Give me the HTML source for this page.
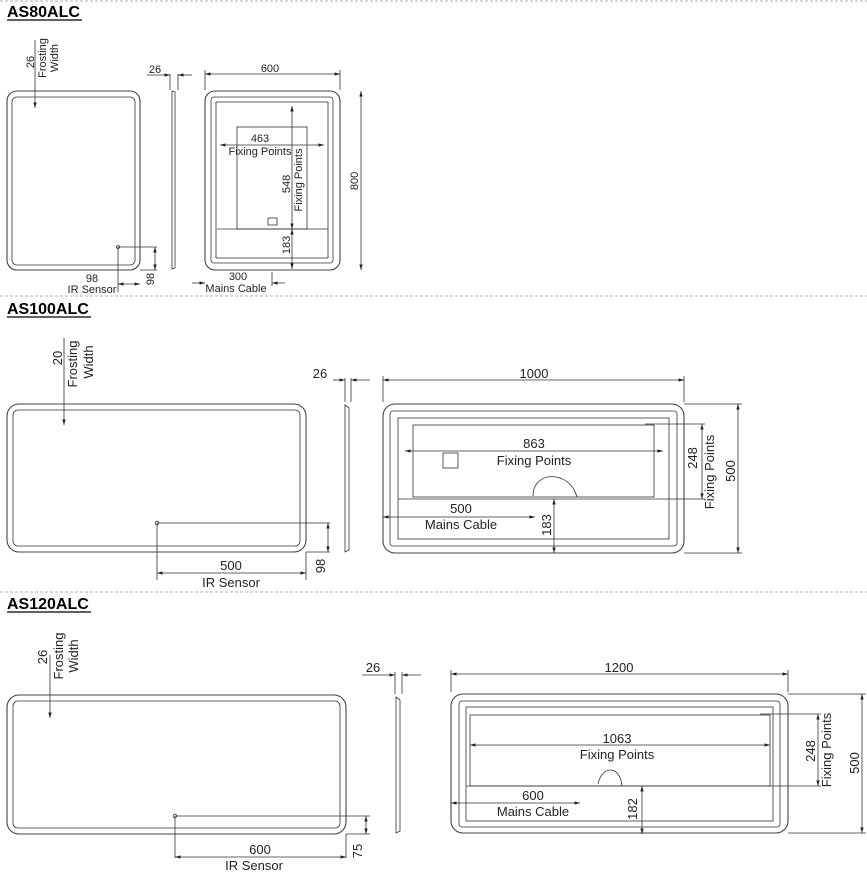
<!DOCTYPE html>
<html><head><meta charset="utf-8"><style>
html,body{margin:0;padding:0;background:#fff;}
svg{display:block;font-family:"Liberation Sans",sans-serif;}
.l{stroke:#333;stroke-width:0.8;fill:none}
.f{stroke:#444;stroke-width:1.1;fill:none}
.t{font-size:12px;fill:#222;text-anchor:middle}
.s{font-size:11px;fill:#222;text-anchor:middle}
.h{font-size:16px;font-weight:bold;fill:#000}
.d{stroke:#999;stroke-width:0.8;stroke-dasharray:3 2}
</style></head><body>
<svg width="867" height="875" viewBox="0 0 867 875" xmlns="http://www.w3.org/2000/svg">
<defs>
<marker id="a" viewBox="0 0 10 10" refX="10" refY="5" markerWidth="7" markerHeight="7" orient="auto-start-reverse"><path d="M0,2 L10,5 L0,8 z" fill="#222"/></marker>
</defs>
<line x1="0" y1="1" x2="867" y2="1" class="d"/>
<line x1="0" y1="296" x2="867" y2="296" class="d"/>
<line x1="0" y1="592" x2="867" y2="592" class="d"/>

<!-- AS80ALC -->
<text x="7" y="17" class="h">AS80ALC</text><line x1="7" y1="20" x2="82" y2="20" stroke="#000" stroke-width="1.3"/>
<rect x="7" y="91" width="133" height="179" rx="10" class="f"/>
<rect x="12" y="97" width="123" height="168" rx="5" class="l"/>
<line x1="35" y1="40" x2="35" y2="108" class="l" marker-end="url(#a)"/>
<text transform="translate(34,62) rotate(-90)" class="s">26</text>
<text transform="translate(46,58) rotate(-90)" class="s">Frosting</text>
<text transform="translate(58,58) rotate(-90)" class="s">Width</text>
<circle cx="118" cy="247" r="1.5" class="l"/>
<line x1="118" y1="247" x2="157" y2="247" class="l"/>
<line x1="155" y1="247" x2="155" y2="270" class="l" marker-start="url(#a)" marker-end="url(#a)"/>
<line x1="140" y1="270" x2="157" y2="270" class="l"/>
<text transform="translate(154,279) rotate(-90)" class="s">98</text>
<line x1="118" y1="247" x2="118" y2="292" class="l"/>
<line x1="118" y1="284" x2="140" y2="284" class="l" marker-start="url(#a)" marker-end="url(#a)"/>
<text x="92" y="282" class="s">98</text><text x="92" y="293" class="s">IR Sensor</text>
<path d="M172,91 L175,92 L175,268 L172,269 Z" class="l"/>
<line x1="170" y1="74" x2="170" y2="90" class="l"/><line x1="178" y1="74" x2="178" y2="90" class="l"/>
<line x1="147" y1="75" x2="170" y2="75" class="l" marker-end="url(#a)"/><line x1="192" y1="75" x2="178" y2="75" class="l" marker-end="url(#a)"/>
<text x="155" y="73" class="s">26</text>
<rect x="205" y="91" width="135" height="179" rx="10" class="f"/>
<rect x="211" y="97" width="122" height="166" rx="3" class="l"/>
<rect x="216" y="102" width="112" height="156" class="l"/>
<line x1="205" y1="74" x2="340" y2="74" class="l" marker-start="url(#a)" marker-end="url(#a)"/>
<line x1="205" y1="70" x2="205" y2="90" class="l"/><line x1="340" y1="70" x2="340" y2="90" class="l"/>
<text x="270" y="72" class="s">600</text>
<line x1="361" y1="91" x2="361" y2="270" class="l" marker-start="url(#a)" marker-end="url(#a)"/>
<text transform="translate(358,181) rotate(-90)" class="s">800</text>
<rect x="237" y="127" width="70" height="102" class="l"/>
<rect x="268" y="218" width="9" height="7" class="l"/>
<line x1="220" y1="145" x2="324" y2="145" class="l" marker-start="url(#a)" marker-end="url(#a)"/>
<text x="260" y="142" class="s">463</text><text x="260" y="155" class="s">Fixing Points</text>
<line x1="292" y1="106" x2="292" y2="229" class="l" marker-start="url(#a)" marker-end="url(#a)"/>
<text transform="translate(290,184) rotate(-90)" class="s">548</text>
<text transform="translate(302,180) rotate(-90)" class="s">Fixing Points</text>
<line x1="217" y1="229" x2="328" y2="229" class="l"/>
<line x1="292" y1="229" x2="292" y2="269" class="l" marker-start="url(#a)" marker-end="url(#a)"/>
<text transform="translate(290,245) rotate(-90)" class="s">183</text>
<line x1="192" y1="283" x2="205" y2="283" class="l" marker-end="url(#a)"/>
<line x1="285" y1="283" x2="272" y2="283" class="l" marker-end="url(#a)"/>
<line x1="272" y1="272" x2="272" y2="286" class="l"/>
<text x="238" y="280" class="s">300</text><text x="236" y="292" class="s">Mains Cable</text>

<!-- AS100ALC -->
<text x="7" y="314" class="h">AS100ALC</text><line x1="7" y1="317" x2="91" y2="317" stroke="#000" stroke-width="1.3"/>
<rect x="7" y="404" width="299" height="148" rx="12" class="f"/>
<rect x="13" y="410" width="287" height="136" rx="5" class="l"/>
<line x1="64" y1="338" x2="64" y2="425" class="l" marker-end="url(#a)"/>
<text transform="translate(62,358) rotate(-90)" class="t" style="font-size:13px">20</text>
<text transform="translate(77,364) rotate(-90)" class="t" style="font-size:13px">Frosting</text>
<text transform="translate(93,362) rotate(-90)" class="t" style="font-size:13px">Width</text>
<circle cx="157" cy="523" r="1.8" class="l"/>
<line x1="157" y1="523" x2="330" y2="523" class="l"/>
<line x1="328" y1="523" x2="328" y2="552" class="l" marker-start="url(#a)" marker-end="url(#a)"/>
<line x1="306" y1="552" x2="330" y2="552" class="l"/>
<text transform="translate(325,566) rotate(-90)" class="t" style="font-size:13px">98</text>
<line x1="157" y1="523" x2="157" y2="580" class="l"/><line x1="306" y1="552" x2="306" y2="580" class="l"/>
<line x1="157" y1="573" x2="306" y2="573" class="l" marker-start="url(#a)" marker-end="url(#a)"/>
<text x="231" y="570" class="t" style="font-size:13px">500</text><text x="231" y="587" class="t" style="font-size:13px">IR Sensor</text>
<path d="M345,405 L349,408 L349,550 L345,552 Z" class="l"/>
<line x1="345" y1="378" x2="345" y2="402" class="l"/><line x1="351" y1="378" x2="351" y2="402" class="l"/>
<line x1="333" y1="380" x2="345" y2="380" class="l" marker-end="url(#a)"/><line x1="370" y1="380" x2="351" y2="380" class="l" marker-end="url(#a)"/>
<text x="320" y="378" class="t" style="font-size:13px">26</text>
<rect x="383" y="404" width="301" height="149" rx="12" class="f"/>
<rect x="390" y="411" width="287" height="135" rx="3" class="l"/>
<rect x="398" y="418" width="271" height="121" class="l"/>
<line x1="383" y1="380" x2="684" y2="380" class="l" marker-start="url(#a)" marker-end="url(#a)"/>
<line x1="383" y1="376" x2="383" y2="402" class="l"/><line x1="684" y1="376" x2="684" y2="402" class="l"/>
<text x="534" y="378" class="t" style="font-size:13px">1000</text>
<line x1="684" y1="404" x2="742" y2="404" class="l"/><line x1="684" y1="553" x2="742" y2="553" class="l"/>
<line x1="738" y1="404" x2="738" y2="553" class="l" marker-start="url(#a)" marker-end="url(#a)"/>
<text transform="translate(735,471) rotate(-90)" class="t" style="font-size:13px">500</text>
<rect x="413" y="425" width="241" height="72" class="l"/>
<rect x="443" y="453" width="15" height="15" class="l"/>
<line x1="405" y1="451" x2="663" y2="451" class="l" marker-start="url(#a)" marker-end="url(#a)"/>
<text x="534" y="448" class="t" style="font-size:13px">863</text><text x="534" y="465" class="t" style="font-size:13px">Fixing Points</text>
<path d="M533,496 C533,470 570,470 577,497" class="l" stroke-width="1.5"/>
<line x1="398" y1="499" x2="705" y2="499" class="l"/>
<line x1="645" y1="424" x2="705" y2="424" class="l"/>
<line x1="702" y1="424" x2="702" y2="499" class="l" marker-start="url(#a)" marker-end="url(#a)"/>
<text transform="translate(697,458) rotate(-90)" class="t" style="font-size:13px">248</text>
<text transform="translate(714,472) rotate(-90)" class="t" style="font-size:13px">Fixing Points</text>
<line x1="383" y1="517" x2="535" y2="517" class="l" marker-start="url(#a)" marker-end="url(#a)"/>
<text x="461" y="513" class="t" style="font-size:13px">500</text><text x="461" y="529" class="t" style="font-size:13px">Mains Cable</text>
<line x1="554" y1="499" x2="554" y2="553" class="l" marker-start="url(#a)" marker-end="url(#a)"/>
<text transform="translate(551,525) rotate(-90)" class="t" style="font-size:13px">183</text>

<!-- AS120ALC -->
<text x="7" y="609" class="h">AS120ALC</text><line x1="7" y1="612" x2="91" y2="612" stroke="#000" stroke-width="1.3"/>
<rect x="7" y="695" width="339" height="139" rx="12" class="f"/>
<rect x="13" y="701" width="327" height="127" rx="5" class="l"/>
<line x1="50" y1="655" x2="50" y2="718" class="l" marker-end="url(#a)"/>
<text transform="translate(47,657) rotate(-90)" class="t" style="font-size:13px">26</text>
<text transform="translate(63,656) rotate(-90)" class="t" style="font-size:13px">Frosting</text>
<text transform="translate(78,656) rotate(-90)" class="t" style="font-size:13px">Width</text>
<circle cx="175" cy="816" r="1.8" class="l"/>
<line x1="175" y1="816" x2="370" y2="816" class="l"/>
<line x1="366" y1="816" x2="366" y2="834" class="l" marker-start="url(#a)" marker-end="url(#a)"/>
<line x1="346" y1="834" x2="370" y2="834" class="l"/>
<text transform="translate(362,851) rotate(-90)" class="t" style="font-size:13px">75</text>
<line x1="175" y1="816" x2="175" y2="858" class="l"/><line x1="346" y1="834" x2="346" y2="858" class="l"/>
<line x1="175" y1="857" x2="346" y2="857" class="l" marker-start="url(#a)" marker-end="url(#a)"/>
<text x="260" y="854" class="t" style="font-size:13px">600</text><text x="254" y="870" class="t" style="font-size:13px">IR Sensor</text>
<path d="M396,697 L400,700 L400,831 L396,833 Z" class="l"/>
<line x1="395" y1="672" x2="395" y2="694" class="l"/><line x1="402" y1="672" x2="402" y2="694" class="l"/>
<line x1="362" y1="675" x2="395" y2="675" class="l" marker-end="url(#a)"/><line x1="421" y1="675" x2="402" y2="675" class="l" marker-end="url(#a)"/>
<text x="373" y="672" class="t" style="font-size:13px">26</text>
<rect x="451" y="694" width="337" height="139" rx="12" class="f"/>
<rect x="459" y="701" width="321" height="126" rx="3" class="l"/>
<rect x="466" y="707" width="307" height="114" class="l"/>
<line x1="451" y1="674" x2="788" y2="674" class="l" marker-start="url(#a)" marker-end="url(#a)"/>
<line x1="451" y1="670" x2="451" y2="692" class="l"/><line x1="788" y1="670" x2="788" y2="692" class="l"/>
<text x="619" y="672" class="t" style="font-size:13px">1200</text>
<line x1="788" y1="694" x2="866" y2="694" class="l"/><line x1="788" y1="833" x2="866" y2="833" class="l"/>
<line x1="862" y1="694" x2="862" y2="833" class="l" marker-start="url(#a)" marker-end="url(#a)"/>
<text transform="translate(859,763) rotate(-90)" class="t" style="font-size:13px">500</text>
<rect x="470" y="715" width="300" height="71" class="l"/>
<line x1="470" y1="745" x2="770" y2="745" class="l" marker-start="url(#a)" marker-end="url(#a)"/>
<text x="617" y="743" class="t" style="font-size:13px">1063</text><text x="617" y="759" class="t" style="font-size:13px">Fixing Points</text>
<path d="M598,784 C602,765 620,765 622,786" class="l" stroke-width="1.5"/>
<line x1="466" y1="786" x2="821" y2="786" class="l"/>
<line x1="760" y1="714" x2="821" y2="714" class="l"/>
<line x1="818" y1="714" x2="818" y2="786" class="l" marker-start="url(#a)" marker-end="url(#a)"/>
<text transform="translate(815,751) rotate(-90)" class="t" style="font-size:13px">248</text>
<text transform="translate(831,750) rotate(-90)" class="t" style="font-size:13px">Fixing Points</text>
<line x1="451" y1="803" x2="580" y2="803" class="l" marker-start="url(#a)" marker-end="url(#a)"/>
<text x="533" y="800" class="t" style="font-size:13px">600</text><text x="533" y="816" class="t" style="font-size:13px">Mains Cable</text>
<line x1="642" y1="786" x2="642" y2="834" class="l" marker-start="url(#a)" marker-end="url(#a)"/>
<text transform="translate(637,809) rotate(-90)" class="t" style="font-size:13px">182</text>
</svg>
</body></html>
